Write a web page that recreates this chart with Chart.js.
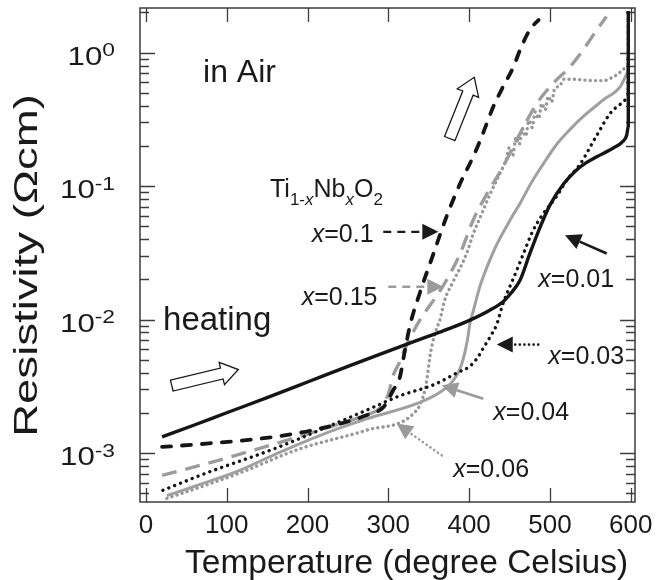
<!DOCTYPE html>
<html>
<head>
<meta charset="utf-8">
<script src="https://cdn.jsdelivr.net/npm/chart.js@4.4.1/dist/chart.umd.min.js"></script>
<style>
  html, body { margin: 0; padding: 0; background: #fff; }
  #wrap { width: 669px; height: 580px; }
</style>
</head>
<body>
<div id="wrap"><canvas id="c" width="669" height="580"></canvas></div>
<script>
// Resistivity of Ti(1-x)Nb(x)O2 films measured on heating in air.
// Temperatures in degrees Celsius, resistivity in ohm·cm.

const tempX001 = [20, 60, 100, 150, 200, 250, 300, 350, 372, 401, 425, 442, 452, 463, 475, 488, 500, 517, 533, 545, 558, 578, 590, 595, 597, 597];
const resX001  = [1.32e-3, 1.62e-3, 2.0e-3, 2.6e-3, 3.4e-3, 4.45e-3, 5.8e-3, 7.5e-3, 8.4e-3, 9.9e-3, 0.0117, 0.0136, 0.0158, 0.0197, 0.031, 0.0495, 0.072, 0.104, 0.132, 0.150, 0.166, 0.192, 0.215, 0.24, 0.28, 2.05];

const tempX003 = [21, 75, 158, 230, 273, 315, 356, 385, 401, 410, 418, 427, 434, 442, 450, 459, 468, 478, 490, 508, 521, 537, 558, 574, 583, 591, 597, 597];
const resX003  = [5.25e-4, 7.08e-4, 1.07e-3, 1.62e-3, 2.09e-3, 2.69e-3, 3.24e-3, 3.98e-3, 4.47e-3, 5.13e-3, 6.17e-3, 7.59e-3, 9.12e-3, 0.0132, 0.0174, 0.0234, 0.032, 0.045, 0.060, 0.0832, 0.111, 0.145, 0.240, 0.347, 0.394, 0.427, 0.468, 2.04];

const tempX004 = [26, 70, 116, 160, 215, 273, 335, 364, 380, 388, 393, 398, 401, 405, 413, 420, 426, 434, 442, 452, 463, 477, 490, 508, 525, 541, 566, 587, 595, 598];
const resX004  = [4.79e-4, 5.89e-4, 7.41e-4, 9.77e-4, 1.35e-3, 1.80e-3, 2.34e-3, 2.85e-3, 3.47e-3, 4.17e-3, 5.13e-3, 7.08e-3, 9.33e-3, 0.0115, 0.0174, 0.0229, 0.0282, 0.0363, 0.0447, 0.0575, 0.0741, 0.106, 0.141, 0.204, 0.266, 0.331, 0.442, 0.556, 0.692, 0.76];

const tempX006 = [26, 70, 116, 191, 273, 335, 343, 348, 352, 358, 364, 370, 380, 397, 405, 414, 426, 438, 446, 450, 454, 458, 462, 466, 470, 474, 478, 482, 486, 490, 494, 498, 502, 506, 512, 517, 530, 541, 554, 566, 576, 583, 590, 598];
const resX006  = [4.57e-4, 5.62e-4, 7.08e-4, 1.076e-3, 1.479e-3, 2.089e-3, 2.63e-3, 3.63e-3, 5.50e-3, 7.94e-3, 0.0100, 0.0141, 0.0191, 0.0313, 0.0437, 0.0589, 0.0871, 0.124, 0.158, 0.195, 0.170, 0.232, 0.205, 0.270, 0.236, 0.310, 0.275, 0.360, 0.320, 0.415, 0.372, 0.470, 0.425, 0.540, 0.560, 0.631, 0.631, 0.624, 0.617, 0.617, 0.646, 0.684, 0.741, 0.813];

const tempX010 = [20, 75, 158, 215, 273, 294, 300, 306, 314, 320, 327, 339, 356, 372, 389, 407, 418, 430, 442, 455, 463, 475, 486];
const resX010  = [1.109e-3, 1.175e-3, 1.318e-3, 1.521e-3, 1.914e-3, 2.208e-3, 2.51e-3, 2.95e-3, 3.63e-3, 5.62e-3, 9.12e-3, 0.0158, 0.0313, 0.0589, 0.105, 0.176, 0.256, 0.394, 0.556, 0.785, 1.047, 1.479, 1.758];

const tempX015 = [20, 75, 174, 230, 270, 290, 300, 306, 314, 322, 339, 360, 372, 389, 405, 420, 442, 463, 484, 504, 525, 541, 558, 570];
const resX015  = [6.79e-4, 8.32e-4, 1.242e-3, 1.585e-3, 1.905e-3, 2.188e-3, 2.754e-3, 3.80e-3, 4.79e-3, 6.31e-3, 9.89e-3, 0.0151, 0.0197, 0.0313, 0.0555, 0.0832, 0.140, 0.248, 0.417, 0.589, 0.785, 1.047, 1.479, 1.862];

// axis ticks
const tempTicks = [0, 100, 200, 300, 400, 500, 600];
const resDecades = [1e-3, 1e-2, 1e-1, 1];
const resDecadeExponents = ['-3', '-2', '-1', '0'];

// line styles, one per composition (black drawn last so it sits on top)
const styles = [
  { name: 'x=0.01', t: tempX001, r: resX001, color: '#151515', width: 3.4, dash: [], cap: 'butt' },
  { name: 'x=0.1',  t: tempX010, r: resX010, color: '#151515', width: 3.8, dash: [9, 11], cap: 'round' },
  { name: 'x=0.03', t: tempX003, r: resX003, color: '#151515', width: 3.4, dash: [0.1, 6.2], cap: 'round' },
  { name: 'x=0.04', t: tempX004, r: resX004, color: '#a0a0a0', width: 3.0, dash: [], cap: 'butt' },
  { name: 'x=0.15', t: tempX015, r: resX015, color: '#9c9c9c', width: 3.4, dash: [15, 9], cap: 'butt' },
  { name: 'x=0.06', t: tempX006, r: resX006, color: '#979797', width: 3.4, dash: [0.1, 5.2], cap: 'round' }
];

const FONT = '"Liberation Sans", Arial, Helvetica, sans-serif';
const INK = '#1a1a1a';
const FRAME = '#3c3c3c';
const GREY = '#9a9a9a';

// annotation anchors in (temperature, log10 resistivity)
const notes = {
  inAir:   [70.7, -0.220],
  heating: [21.2, -2.080],
  formula: [153.6, -1.080],
  lab010:  [205.2, -1.418],
  lab015:  [192.8, -1.893],
  lab001:  [485.6, -1.755],
  lab003:  [498.0, -2.330],
  lab004:  [430.0, -2.755],
  lab006:  [380.4, -3.181]
};
const pointers = [
  { from: [293.8, -1.343], to: [361.9, -1.343], color: INK,  width: 2.4, dash: [8, 6],  cap: 'butt' },
  { from: [300.0, -1.755], to: [368.1, -1.755], color: GREY, width: 2.4, dash: [8, 6],  cap: 'butt' },
  { from: [570.3, -1.505], to: [518.7, -1.368], color: INK,  width: 2.6, dash: [],      cap: 'butt' },
  { from: [485.6, -2.188], to: [434.2, -2.188], color: INK,  width: 2.6, dash: [0.1, 4.5], cap: 'round' },
  { from: [417.6, -2.593], to: [366.1, -2.493], color: GREY, width: 2.6, dash: [],      cap: 'butt' },
  { from: [366.1, -3.018], to: [310.4, -2.780], color: GREY, width: 2.6, dash: [0.1, 4.5], cap: 'round' }
];
const bigArrows = [
  { from: [32.0, -2.495], to: [114.4, -2.375] },
  { from: [376.0, -0.644], to: [406.4, -0.185] }
];

function rich(ctx, x, y, parts) {
  for (const p of parts) {
    ctx.font = (p.it ? 'italic ' : '') + p.s + 'px ' + FONT;
    ctx.fillText(p.t, x, y + (p.dy || 0));
    x += ctx.measureText(p.t).width;
  }
}
function xLabel(txt, s) {
  return [{ t: 'x', it: true, s: s }, { t: txt, s: s }];
}

function hollowArrow(ctx, x0, y0, x1, y1) {
  const ang = Math.atan2(y1 - y0, x1 - x0), L = Math.hypot(x1 - x0, y1 - y0);
  const sh = 5.6, hh = 11.5, hl = 17;
  ctx.save();
  ctx.translate(x0, y0); ctx.rotate(ang);
  ctx.beginPath();
  ctx.moveTo(0, -sh); ctx.lineTo(L - hl, -sh); ctx.lineTo(L - hl, -hh); ctx.lineTo(L, 0);
  ctx.lineTo(L - hl, hh); ctx.lineTo(L - hl, sh); ctx.lineTo(0, sh); ctx.closePath();
  ctx.fillStyle = '#fff'; ctx.fill();
  ctx.lineWidth = 1.3; ctx.strokeStyle = INK; ctx.lineJoin = 'miter'; ctx.stroke();
  ctx.restore();
}
function pointerArrow(ctx, x0, y0, x1, y1, p) {
  const ang = Math.atan2(y1 - y0, x1 - x0), L = Math.hypot(x1 - x0, y1 - y0);
  const hl = 16, hh = 8;
  ctx.save();
  ctx.translate(x0, y0); ctx.rotate(ang);
  ctx.strokeStyle = p.color; ctx.lineWidth = p.width; ctx.lineCap = p.cap; ctx.setLineDash(p.dash);
  ctx.beginPath(); ctx.moveTo(0, 0); ctx.lineTo(L - hl, 0); ctx.stroke();
  ctx.setLineDash([]);
  ctx.fillStyle = p.color;
  ctx.beginPath(); ctx.moveTo(L, 0); ctx.lineTo(L - hl, -hh); ctx.lineTo(L - hl, hh); ctx.closePath(); ctx.fill();
  ctx.restore();
}

const decor = {
  id: 'decor',
  beforeDatasetsDraw(chart) {
    const ctx = chart.ctx, a = chart.chartArea, xs = chart.scales.x, ys = chart.scales.y;
    ctx.save();
    ctx.strokeStyle = FRAME; ctx.lineWidth = 1.3;
    ctx.beginPath();
    // temperature ticks, inward on bottom and top
    for (const v of tempTicks) {
      const px = Math.round(xs.getPixelForValue(v)) + 0.5;
      ctx.moveTo(px, a.bottom); ctx.lineTo(px, a.bottom - 14);
      ctx.moveTo(px, a.top); ctx.lineTo(px, a.top + 14);
    }
    // resistivity ticks, inward on left and right
    const lo = ys.min, hi = ys.max;
    for (let d = 1e-4; d <= 1; d *= 10) {
      for (let k = 1; k <= 9; k++) {
        const v = d * k;
        if (v < lo || v > hi) continue;
        const len = k === 1 ? 15 : 9;
        const py = Math.round(ys.getPixelForValue(v)) + 0.5;
        ctx.moveTo(a.left, py); ctx.lineTo(a.left + len, py);
        ctx.moveTo(a.right, py); ctx.lineTo(a.right - len, py);
      }
    }
    ctx.stroke();
    ctx.lineWidth = 1.5;
    ctx.strokeRect(a.left, a.top, a.right - a.left, a.bottom - a.top);
    ctx.restore();
  },
  afterDatasetsDraw(chart) {
    const ctx = chart.ctx, a = chart.chartArea, xs = chart.scales.x, ys = chart.scales.y;
    const X = t => xs.getPixelForValue(t);
    const Y = lr => ys.getPixelForValue(Math.pow(10, lr));
    ctx.save();
    ctx.fillStyle = INK;
    ctx.textBaseline = 'alphabetic';

    // temperature tick labels
    ctx.font = '26px ' + FONT;
    ctx.textAlign = 'center';
    for (const v of tempTicks) ctx.fillText(String(v), X(v), a.bottom + 31);

    // resistivity tick labels: 10 with superscript exponent
    ctx.textAlign = 'left';
    resDecades.forEach((v, i) => {
      const py = ys.getPixelForValue(v);
      ctx.font = '26px ' + FONT;
      const w10 = ctx.measureText('10').width;
      ctx.font = '19px ' + FONT;
      const we = ctx.measureText(resDecadeExponents[i]).width;
      const sx = 1.2;
      const right = a.left - 25;
      ctx.save();
      ctx.translate(right - (w10 + we) * sx, py + 12.3);
      ctx.scale(sx, 1);
      ctx.font = '26px ' + FONT;
      ctx.fillText('10', 0, 0);
      ctx.font = '19px ' + FONT;
      ctx.fillText(resDecadeExponents[i], w10, -8.5);
      ctx.restore();
    });

    // axis titles
    ctx.font = '33.5px ' + FONT;
    ctx.textAlign = 'left';
    ctx.fillText('Temperature (degree Celsius)', a.left + 45, a.bottom + 71);
    ctx.save();
    ctx.translate(a.left - 103, (a.top + a.bottom) / 2 + 10.5);
    ctx.rotate(-Math.PI / 2);
    ctx.scale(1.38, 1);
    ctx.font = '33px ' + FONT;
    ctx.textAlign = 'center';
    ctx.fillText('Resistivity (\u03A9cm)', 0, 0);
    ctx.restore();

    // in-plot text
    ctx.textAlign = 'left';
    ctx.font = '32px ' + FONT;
    ctx.fillText('in Air', X(notes.inAir[0]), Y(notes.inAir[1]));
    ctx.font = '33px ' + FONT;
    ctx.fillText('heating', X(notes.heating[0]), Y(notes.heating[1]));
    rich(ctx, X(notes.formula[0]), Y(notes.formula[1]), [
      { t: 'Ti', s: 25 }, { t: '1-', s: 17, dy: 8 }, { t: 'x', s: 17, it: true, dy: 8 },
      { t: 'Nb', s: 25 }, { t: 'x', s: 17, it: true, dy: 8 }, { t: 'O', s: 25 }, { t: '2', s: 17, dy: 8 }
    ]);
    rich(ctx, X(notes.lab010[0]), Y(notes.lab010[1]), xLabel('=0.1', 25));
    rich(ctx, X(notes.lab015[0]), Y(notes.lab015[1]), xLabel('=0.15', 25));
    rich(ctx, X(notes.lab001[0]), Y(notes.lab001[1]), xLabel('=0.01', 25));
    rich(ctx, X(notes.lab003[0]), Y(notes.lab003[1]), xLabel('=0.03', 25));
    rich(ctx, X(notes.lab004[0]), Y(notes.lab004[1]), xLabel('=0.04', 25));
    rich(ctx, X(notes.lab006[0]), Y(notes.lab006[1]), xLabel('=0.06', 25));

    for (const p of pointers) {
      pointerArrow(ctx, X(p.from[0]), Y(p.from[1]), X(p.to[0]), Y(p.to[1]), p);
    }
    for (const b of bigArrows) {
      hollowArrow(ctx, X(b.from[0]), Y(b.from[1]), X(b.to[0]), Y(b.to[1]));
    }
    ctx.restore();
  }
};

const datasets = styles.map(s => ({
  label: s.name,
  data: s.t.map((t, i) => ({ x: t, y: s.r[i] })),
  borderColor: s.color,
  borderWidth: s.width,
  borderDash: s.dash,
  borderCapStyle: s.cap,
  borderJoinStyle: 'round',
  pointRadius: 0,
  fill: false,
  cubicInterpolationMode: 'monotone',
  clip: 4
}));

new Chart(document.getElementById('c'), {
  type: 'line',
  data: { datasets },
  options: {
    responsive: false,
    animation: false,
    events: [],
    layout: { padding: { left: 0, top: 8, right: 34, bottom: 0 } },
    plugins: { legend: { display: false }, tooltip: { enabled: false } },
    scales: {
      x: {
        type: 'linear', min: -7.3, max: 605.3,
        grid: { display: false }, border: { display: false },
        ticks: { display: false },
        afterFit(s) { s.height = 78; }
      },
      y: {
        type: 'logarithmic', min: 4.29e-4, max: 2.16,
        grid: { display: false }, border: { display: false },
        ticks: { display: false },
        afterFit(s) { s.width = 140; }
      }
    }
  },
  plugins: [decor]
});
</script>
</body>
</html>
